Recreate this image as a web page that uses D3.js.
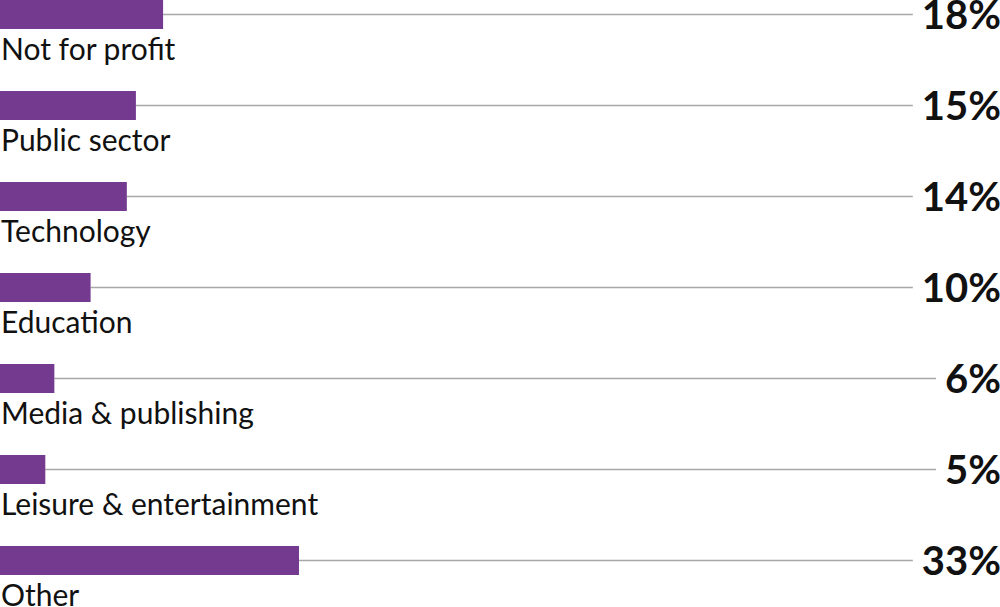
<!DOCTYPE html>
<html>
<head>
<meta charset="utf-8">
<script src="https://cdn.jsdelivr.net/npm/d3@7"></script>
<style>
  html, body { margin: 0; padding: 0; background: #fff; }
  svg { display: block; }
</style>
</head>
<body>
<div id="chart"></div>
<script>
const categories = ["Not for profit", "Public sector", "Technology", "Education",
  "Media & publishing", "Leisure & entertainment", "Other"];
const shares = [18, 15, 14, 10, 6, 5, 33];
const valueLabels = ["18%", "15%", "14%", "10%", "6%", "5%", "33%"];

const width = 1000, height = 607;
const barHeight = 29;

const svg = d3.select("#chart").append("svg")
  .attr("width", width)
  .attr("height", height);

const x = d3.scaleLinear().domain([0, 100]).range([0, 906]);
const y = d3.scaleBand().domain(categories).range([0, 637]).padding(0);

const rows = svg.selectAll("g.row")
  .data(categories)
  .join("g")
  .attr("class", "row")
  .attr("transform", d => `translate(0,${y(d)})`);

// value labels first so the leader line can stop short of them
const pct = rows.append("text")
  .attr("x", width + 1)
  .attr("y", barHeight - 0.5)
  .attr("text-anchor", "end")
  .style("font-family", "Lato, 'Open Sans', sans-serif")
  .style("font-weight", "bold")
  .style("font-size", "40px")
  .style("fill", "#111")
  .text((d, i) => valueLabels[i]);

rows.append("line")
  .attr("x1", (d, i) => x(shares[i]))
  .attr("x2", function(d, i) {
    const w = pct.nodes()[i].getComputedTextLength();
    return width + 1 - w - 9;
  })
  .attr("y1", barHeight / 2)
  .attr("y2", barHeight / 2)
  .attr("stroke", "#a8a8a8")
  .attr("stroke-width", 1.5);

rows.append("rect")
  .attr("x", 0)
  .attr("y", 0)
  .attr("width", (d, i) => x(shares[i]))
  .attr("height", barHeight)
  .attr("fill", "#733a90");

rows.append("text")
  .attr("x", 1)
  .attr("y", barHeight + 31)
  .style("font-family", "Lato, 'Open Sans', sans-serif")
  .style("font-size", "30px")
  .style("fill", "#111")
  .text(d => d);
</script>
</body>
</html>
